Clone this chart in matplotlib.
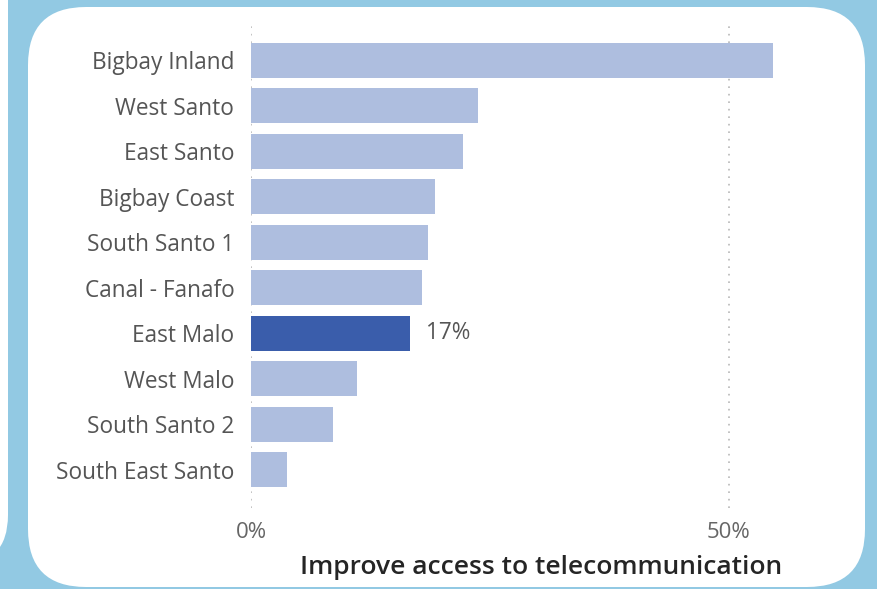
import matplotlib.pyplot as plt
from matplotlib.patches import FancyBboxPatch

# Share of respondents per area
areas = ["Bigbay Inland", "West Santo", "East Santo", "Bigbay Coast", "South Santo 1",
         "Canal - Fanafo", "East Malo", "West Malo", "South Santo 2", "South East Santo"]
values = [54.6, 23.7, 22.2, 19.2, 18.5, 17.9, 16.6, 11.1, 8.6, 3.8]
highlight = "East Malo"
x_ticks = [0, 50]
x_tick_labels = ["0%", "50%"]
title = "Improve access to telecommunication"

W, H = 877, 589
fig = plt.figure(figsize=(W / 100, H / 100), dpi=100)
fig.patch.set_facecolor("#92C9E3")

# background panels in pixel coordinates
bg = fig.add_axes([0, 0, 1, 1])
bg.set_xlim(0, W)
bg.set_ylim(H, 0)
bg.axis("off")
bg.add_patch(FancyBboxPatch((-200, -100), 208, 665,
                            boxstyle="round,pad=0,rounding_size=50",
                            fc="white", ec="none"))
bg.add_patch(FancyBboxPatch((28, 7), 837, 580,
                            boxstyle="round,pad=0,rounding_size=58",
                            fc="white", ec="none"))

ax = fig.add_axes([251 / W, 1 - 508 / H, (845 - 251) / W, (508 - 25) / H])
ax.set_facecolor("none")

ypos = list(range(len(areas)))
colors = ["#3A5DAB" if a == highlight else "#AEBEDF" for a in areas]
ax.barh(ypos, values, height=0.77, color=colors, zorder=2)

ax.set_xlim(0, (845 - 251) / 9.56)
ax.set_ylim(9.84, -0.78)

for xt in x_ticks:
    ax.axvline(xt, color="#B8B8B8", linestyle=(0, (1, 3.5)), linewidth=1.2, zorder=1)

ax.set_yticks(ypos)
ax.set_yticklabels(areas, fontsize=16.3, color="#555555", fontfamily="Open Sans")
ax.set_xticks(x_ticks)
ax.set_xticklabels(x_tick_labels, fontsize=16, color="#666666", fontfamily="Open Sans")
ax.tick_params(axis="y", length=0, pad=12)
ax.tick_params(axis="x", length=0, pad=10)
for s in ax.spines.values():
    s.set_visible(False)

hi = areas.index(highlight)
ax.text(values[hi] + 1.7, hi, f"{round(values[hi])}%", va="center", ha="left",
        fontsize=16.3, color="#555555", fontfamily="Open Sans")

fig.text(541 / W, 1 - 567 / H, title, ha="center", va="center",
         fontsize=19, fontweight="semibold", color="#252525", fontfamily="Open Sans")

fig.savefig("out.png", dpi=100, facecolor=fig.get_facecolor())
